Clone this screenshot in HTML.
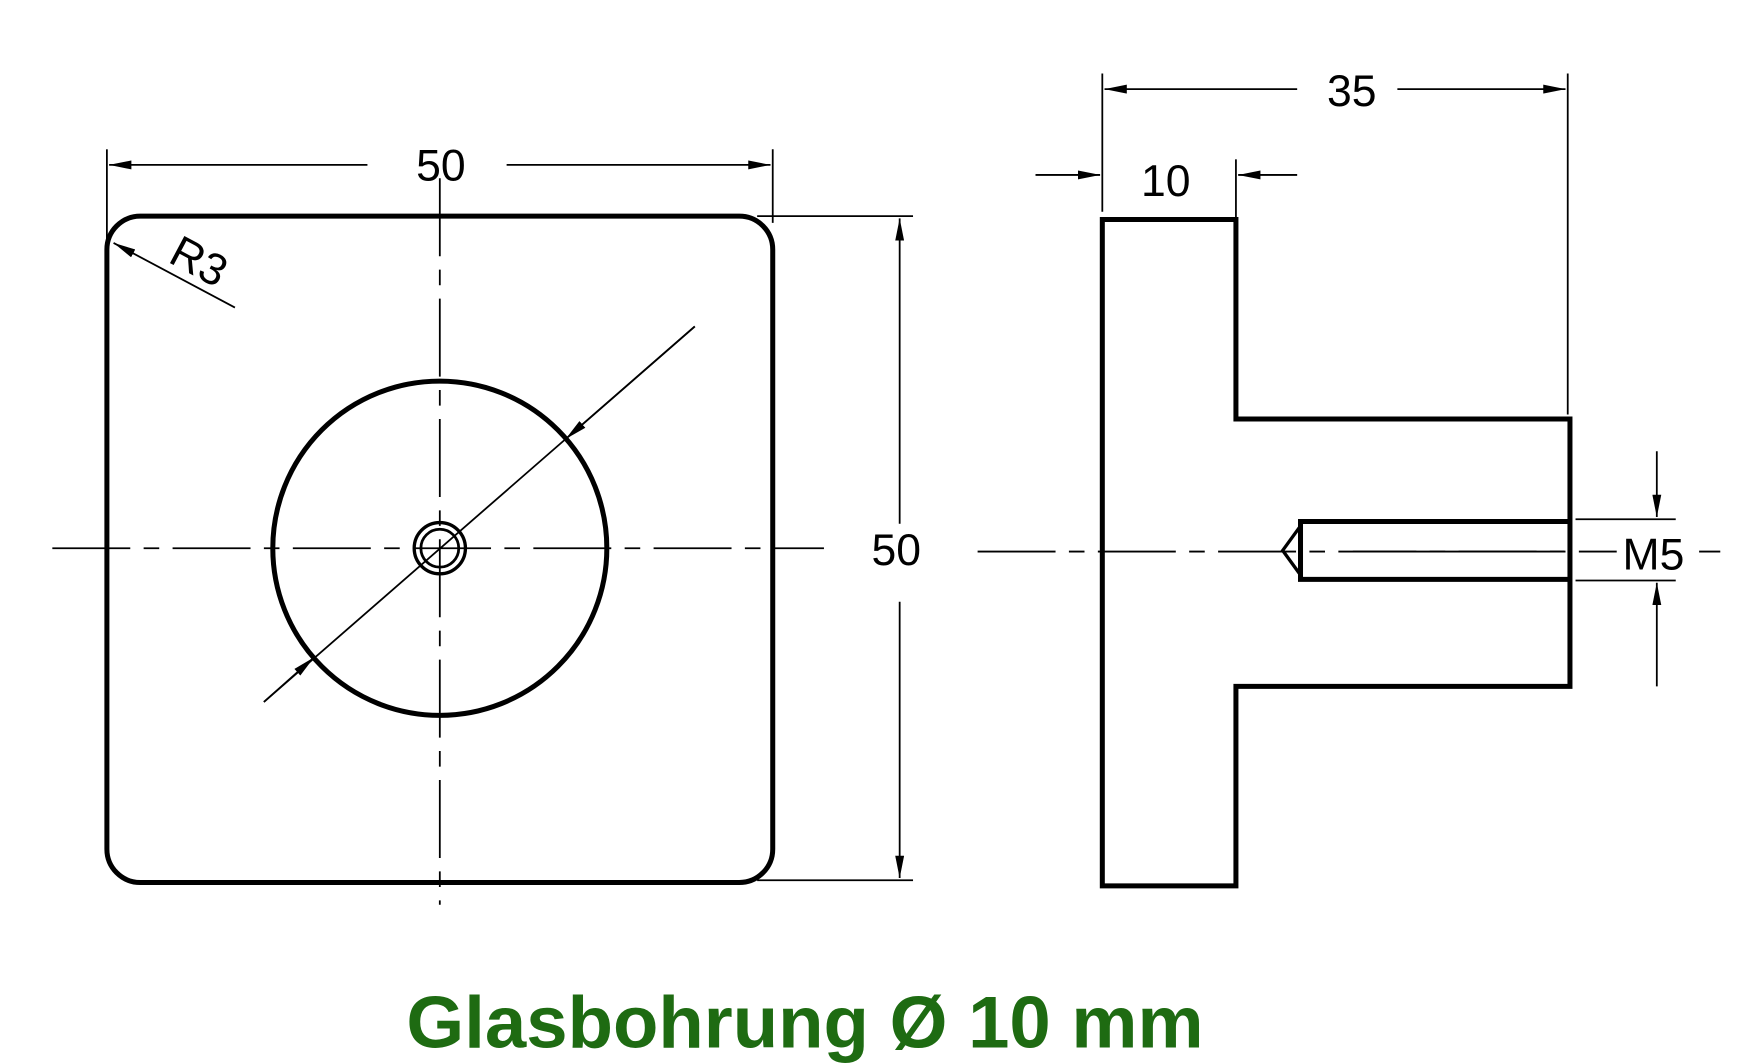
<!DOCTYPE html>
<html><head><meta charset="utf-8"><style>html,body{margin:0;padding:0;background:#fff}svg{display:block}</style></head>
<body>
<svg width="1747" height="1063" viewBox="0 0 1569 954" preserveAspectRatio="none" xmlns="http://www.w3.org/2000/svg">
<defs>
<marker id="a" viewBox="0 0 20 8" refX="20" refY="4" markerWidth="20" markerHeight="8" markerUnits="userSpaceOnUse" orient="auto"><path d="M0,0 L20,4 L0,8 z" fill="#000"/></marker>
</defs>
<g fill="none" stroke="#000">
<rect x="96" y="194" width="598" height="598" rx="30" stroke-width="4.5"/>
<g stroke-width="1.6" stroke-dasharray="70,12,14,12">
<line x1="395" y1="160" x2="395" y2="812"/>
<line x1="47" y1="492" x2="740" y2="492"/>
</g>
<circle cx="395" cy="492" r="150" stroke-width="4.5"/>
<circle cx="395" cy="492" r="23" stroke-width="3"/>
<circle cx="395" cy="492" r="17" stroke-width="2.5"/>
<line x1="624" y1="293" x2="237" y2="630" stroke-width="1.6"/>
<line x1="624" y1="293" x2="508" y2="394" stroke-width="1.6" marker-end="url(#a)"/>
<line x1="237" y1="630" x2="282" y2="590" stroke-width="1.6" marker-end="url(#a)"/>
<line x1="211" y1="276" x2="102" y2="218" stroke-width="1.6" marker-end="url(#a)"/>
<g stroke-width="1.6">
<line x1="96" y1="134" x2="96" y2="220"/>
<line x1="694" y1="134" x2="694" y2="200"/>
<line x1="330" y1="148" x2="98" y2="148" marker-end="url(#a)"/>
<line x1="455" y1="148" x2="692" y2="148" marker-end="url(#a)"/>
<line x1="680" y1="194" x2="820" y2="194"/>
<line x1="680" y1="790" x2="820" y2="790"/>
<line x1="808" y1="470" x2="808" y2="196" marker-end="url(#a)"/>
<line x1="808" y1="540" x2="808" y2="788" marker-end="url(#a)"/>
</g>
<path d="M990,197 H1110 V376 H1410 V616 H1110 V795 H990 Z" stroke-width="4.5"/>
<path d="M1410,468 H1168 V520 H1410" stroke-width="4.5"/>
<path d="M1168,472 L1152,494 L1168,516" stroke-width="3"/>
<line x1="878" y1="495" x2="1545" y2="495" stroke-width="1.6" stroke-dasharray="70,12,14,12"/>
<line x1="1215" y1="495" x2="1405" y2="495" stroke-width="1.6"/>
<g stroke-width="1.6">
<line x1="990" y1="66" x2="990" y2="190"/>
<line x1="1408" y1="66" x2="1408" y2="372"/>
<line x1="1165" y1="80" x2="992" y2="80" marker-end="url(#a)"/>
<line x1="1255" y1="80" x2="1406" y2="80" marker-end="url(#a)"/>
<line x1="1110" y1="143" x2="1110" y2="195"/>
<line x1="930" y1="157" x2="988" y2="157" marker-end="url(#a)"/>
<line x1="1165" y1="157" x2="1112" y2="157" marker-end="url(#a)"/>
<line x1="1415" y1="466" x2="1505" y2="466"/>
<line x1="1415" y1="521" x2="1505" y2="521"/>
<line x1="1488" y1="405" x2="1488" y2="464" marker-end="url(#a)"/>
<line x1="1488" y1="616" x2="1488" y2="523" marker-end="url(#a)"/>
</g>
</g>
<rect x="1452" y="478" width="66" height="36" fill="#fff"/>
<g font-family="Liberation Sans, sans-serif" font-size="40" fill="#000" text-anchor="middle">
<text x="396" y="162">50</text>
<text x="805" y="507">50</text>
<text x="1214" y="95">35</text>
<text x="1047" y="176">10</text>
<text x="1485" y="511">M5</text>
<text x="178" y="248" transform="rotate(28 178 236)">R3</text>
</g>
<text x="365" y="940" textLength="716" lengthAdjust="spacingAndGlyphs" font-family="Liberation Sans, sans-serif" font-weight="bold" font-size="66" fill="#1e6b12">Glasbohrung Ø 10 mm</text>
</svg>
</body></html>
